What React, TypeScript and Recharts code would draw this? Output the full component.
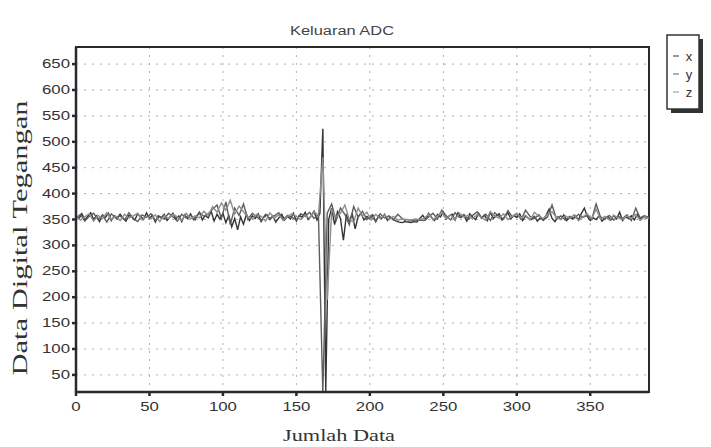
import React from "react";
import {
  CartesianGrid,
  Line,
  LineChart,
  ReferenceArea,
  XAxis,
  YAxis,
} from "recharts";

// ADC output, three channels
const seriesNames = ["x", "y", "z"];
const xTicks = [0, 50, 100, 150, 200, 250, 300, 350];
const yTicks = [50, 100, 150, 200, 250, 300, 350, 400, 450, 500, 550, 600, 650];

// channel x, sampled every 2 points
const xStep = 2;
const xValues = [
  358, 352, 361, 349, 356, 363, 350, 357, 346, 359,
  354, 362, 348, 357, 351, 360, 353, 347, 358, 355,
  349, 361, 356, 350, 363, 352, 358, 345, 357, 353,
  360, 348, 355, 362, 351, 357, 346, 359, 352, 361,
  350, 356, 364, 349, 358, 353, 366, 347, 360, 351,
  362, 344, 358, 336, 352, 330, 355, 341, 360, 348,
  357, 352, 361, 346, 355, 359, 350, 357, 345, 353,
  360, 349, 356, 351, 362, 347, 358, 354, 364, 350,
  357, 366, 349, 362, 525, 18, 350, 372, 340, 365,
  352, 310, 358, 346, 361, 332, 355, 362, 349, 356,
  351, 359, 346, 357, 352, 360, 348, 355, 350, 347,
  345, 344, 346, 345, 344, 346, 345, 352, 358, 350,
  362, 354, 348, 360, 355, 364, 351, 357, 360, 349,
  363, 354, 358, 347, 361, 355, 350, 362, 353, 359,
  348, 364, 352, 357, 361, 349, 356, 363, 351, 358,
  354, 361, 348, 357, 352, 350, 356, 347, 353, 349,
  358, 370, 352, 346, 355, 350, 359, 348, 354, 351,
  357, 349, 362, 372, 356, 348, 353, 350, 357, 347,
  352, 356, 349, 358, 351, 364, 348, 355, 352, 357,
  349, 360, 351, 356, 353, 355,
];

// channels y and z, sampled every 3 points
const yzStep = 3;
const yValues = [
  352, 360, 347, 356, 362, 350, 358, 345, 361, 353,
  357, 349, 363, 352, 346, 359, 354, 361, 348, 356,
  351, 362, 355, 347, 360, 353, 358, 349, 364, 356,
  361, 370, 378, 352, 384, 340, 372, 358, 380, 350,
  362, 355, 348, 360, 352, 357, 363, 350, 358, 354,
  349, 361, 356, 364, 352, 360, 15, 362, 380, 348,
  372, 360, 340, 375, 355, 366, 350, 358, 346, 361,
  353, 357, 349, 360, 352, 346, 348, 347, 349, 348,
  355, 362, 351, 368, 357, 349, 363, 354, 360, 350,
  358, 365, 352, 360, 348, 363, 356, 351, 367, 355,
  361, 350, 368, 356, 352, 359, 348, 355, 378, 351,
  357, 349, 356, 352, 360, 354, 358, 350, 380, 355,
  351, 358, 349, 356, 352, 359, 348, 372, 353, 357,
  354,
];
const zValues = [
  356, 349, 355, 361, 347, 358, 352, 363, 350, 357,
  348, 360, 353, 357, 362, 349, 356, 351, 359, 346,
  358, 352, 360, 355, 348, 362, 351, 357, 353, 366,
  358, 375, 364, 382, 368, 387, 360, 376, 365, 355,
  351, 360, 356, 347, 363, 353, 359, 348, 356, 361,
  356, 350, 358, 352, 365, 358, 470, 195, 368, 355,
  362, 378, 350, 345, 372, 357, 364, 349, 360, 352,
  359, 350, 356, 349, 351, 350, 349, 351, 350, 352,
  360, 349, 357, 364, 352, 359, 350, 362, 355, 358,
  351, 360, 354, 348, 365, 357, 352, 361, 350, 356,
  362, 353, 358, 349, 364, 356, 352, 360, 365, 354,
  350, 357, 352, 359, 348, 355, 361, 352, 370, 351,
  356, 349, 358, 353, 350, 357, 352, 360, 348, 355,
  352,
];

const toPoints = (vals: number[], step: number) =>
  vals.map((v, k) => ({ i: k * step, v }));

const lines = [
  { name: seriesNames[0], data: toPoints(xValues, xStep), color: "#333333" },
  { name: seriesNames[1], data: toPoints(yValues, yzStep), color: "#5e5e5e" },
  { name: seriesNames[2], data: toPoints(zValues, yzStep), color: "#8e8e8e" },
];

const SANS = "'Liberation Sans', Arial, sans-serif";
const SERIF = "'Liberation Serif', 'Times New Roman', serif";

function YTick({ x, y, payload }: any) {
  return (
    <g transform={`translate(${x},${y})`}>
      <text transform="scale(1.4,1)" textAnchor="end" dy={4} fontSize={12} fontFamily={SANS} fill="#333">
        {payload.value}
      </text>
    </g>
  );
}

function XTick({ x, y, payload }: any) {
  return (
    <g transform={`translate(${x},${y})`}>
      <text transform="scale(1.4,1)" textAnchor="middle" dy={13} fontSize={12} fontFamily={SANS} fill="#333">
        {payload.value}
      </text>
    </g>
  );
}

export default function App() {
  return (
    <div style={{ position: "absolute", left: 0, top: 0, background: "#fff" }}>
      <LineChart width={711} height={447} margin={{ top: 47, right: 62, bottom: 0, left: 0 }}>
        <CartesianGrid stroke="#b0b0b0" strokeDasharray="2 6" />
        <XAxis
          type="number"
          dataKey="i"
          domain={[0, 390]}
          ticks={xTicks}
          height={55}
          tickSize={4}
          stroke="#2a2a2a"
          strokeWidth={2.5}
          tick={<XTick />}
          allowDataOverflow
        />
        <YAxis
          type="number"
          domain={[17, 683]}
          ticks={yTicks}
          width={76}
          tickSize={4}
          stroke="#2a2a2a"
          strokeWidth={2.5}
          tick={<YTick />}
          allowDataOverflow
        />
        {lines.map((s) => (
          <Line
            key={s.name}
            data={s.data}
            dataKey="v"
            name={s.name}
            type="linear"
            stroke={s.color}
            strokeWidth={1.4}
            dot={false}
            isAnimationActive={false}
          />
        ))}
        <ReferenceArea x1={0} x2={390} y1={17} y2={683} fill="none" stroke="#2a2a2a" strokeWidth={2} />

        {/* title and axis labels */}
        <text x={342} y={35} textAnchor="middle" fontSize={12} fontFamily={SANS} fill="#444" textLength={104} lengthAdjust="spacingAndGlyphs">
          Keluaran ADC
        </text>
        <text x={339} y={441} textAnchor="middle" fontSize={17} fontFamily={SERIF} fill="#333" textLength={112} lengthAdjust="spacingAndGlyphs">
          Jumlah Data
        </text>
        <text
          transform="translate(27,238) scale(1.35,1) rotate(-90)"
          textAnchor="middle"
          fontSize={16}
          fontFamily={SERIF}
          fill="#333"
          textLength={275}
          lengthAdjust="spacingAndGlyphs"
        >
          Data Digital Tegangan
        </text>

        {/* legend box with shadow */}
        <g>
          <rect x={671} y={39} width={32} height={74} fill="#333" />
          <rect x={667} y={35} width={32} height={74} fill="#fff" stroke="#333" strokeWidth={1.5} />
          {lines.map((s, k) => (
            <g key={s.name}>
              <line x1={673} x2={679} y1={56 + k * 18} y2={56 + k * 18} stroke={s.color} strokeWidth={1} />
              <text x={689} y={61 + k * 18} textAnchor="middle" fontSize={13} fontFamily={SANS} fill="#333">
                {s.name}
              </text>
            </g>
          ))}
        </g>
      </LineChart>
    </div>
  );
}
